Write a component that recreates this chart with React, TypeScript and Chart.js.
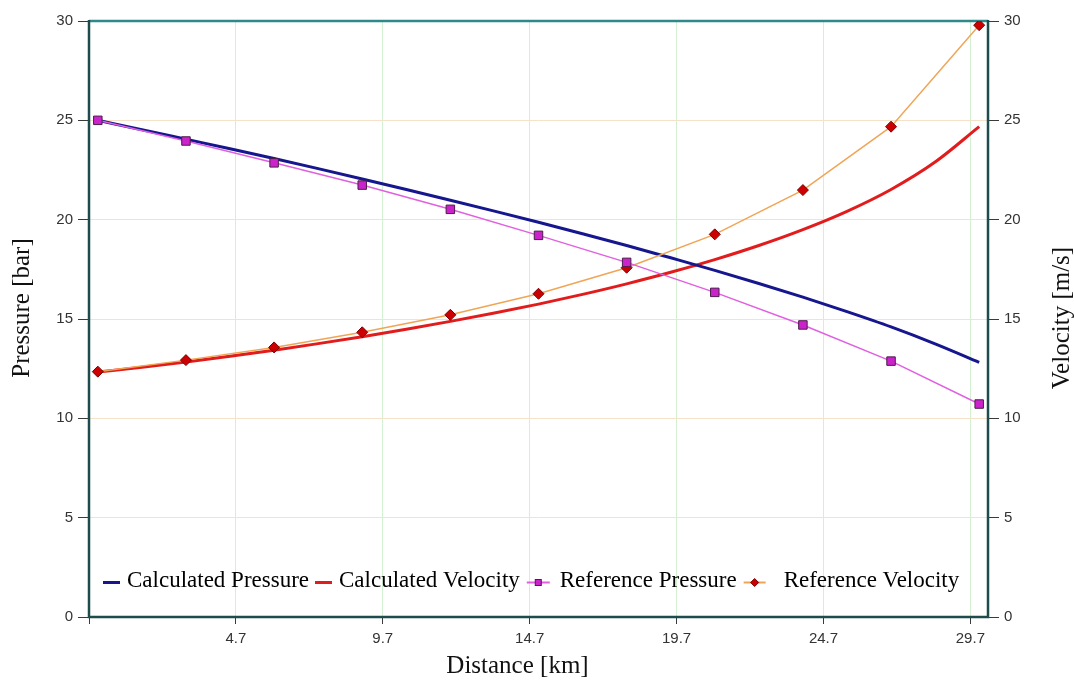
import { useEffect, useRef } from "react";
import { Chart, registerables } from "chart.js";

Chart.register(...registerables);

// ---- Data ----
const refDistance = [0, 3, 6, 9, 12, 15, 18, 21, 24, 27, 30];
const refPressure = [25.0, 23.96, 22.86, 21.74, 20.52, 19.21, 17.85, 16.34, 14.7, 12.88, 10.72];
const refVelocity = [12.35, 12.93, 13.57, 14.33, 15.21, 16.27, 17.58, 19.26, 21.49, 24.68, 29.79];

const calcDistance = [0, 1.5, 3, 4.5, 6, 7.5, 9, 10.5, 12, 13.5, 15, 16.5, 18, 19.5, 21, 22.5, 24, 25.5, 27, 28.5, 30];
const calcPressure = [25.0, 24.53, 24.05, 23.57, 23.08, 22.57, 22.05, 21.52, 20.98, 20.43, 19.87, 19.29, 18.7, 18.08, 17.45, 16.79, 16.1, 15.37, 14.6, 13.75, 12.82];
const calcVelocity = [12.33, 12.57, 12.83, 13.12, 13.43, 13.76, 14.11, 14.48, 14.88, 15.3, 15.75, 16.24, 16.77, 17.35, 17.99, 18.7, 19.5, 20.42, 21.52, 22.9, 24.68];

const xTickValues = [-0.3, 4.7, 9.7, 14.7, 19.7, 24.7, 29.7];
const yTickValues = [0, 5, 10, 15, 20, 25, 30];

const seriesNames = ["Calculated Pressure", "Calculated Velocity", "Reference Pressure", "Reference Velocity"];
const xTitle = "Distance [km]";
const yLeftTitle = "Pressure [bar]";
const yRightTitle = "Velocity [m/s]";

// ---- Styles ----
const C_CALC_P = "#16168e";
const C_CALC_V = "#e21c1c";
const C_REF_P_LINE = "#e060e0";
const C_REF_P_FILL = "#cc22cc";
const C_REF_P_BORDER = "#4a1e4a";
const C_REF_V_LINE = "#f0a555";
const C_REF_V_FILL = "#cc0000";
const C_REF_V_BORDER = "#7a0000";
const SERIF = '"Liberation Serif", "Times New Roman", serif';
const SANS = '"Liberation Sans", Arial, sans-serif';

const toXY = (xs: number[], ys: number[]) => xs.map((x, i) => ({ x, y: ys[i] }));

function drawSquare(ctx: CanvasRenderingContext2D, x: number, y: number, s: number) {
  ctx.fillStyle = C_REF_P_FILL;
  ctx.strokeStyle = C_REF_P_BORDER;
  ctx.lineWidth = 1;
  ctx.fillRect(x - s / 2, y - s / 2, s, s);
  ctx.strokeRect(x - s / 2, y - s / 2, s, s);
}
function drawDiamond(ctx: CanvasRenderingContext2D, x: number, y: number, r: number) {
  ctx.fillStyle = C_REF_V_FILL;
  ctx.strokeStyle = C_REF_V_BORDER;
  ctx.lineWidth = 1;
  ctx.beginPath();
  ctx.moveTo(x, y - r);
  ctx.lineTo(x + r, y);
  ctx.lineTo(x, y + r);
  ctx.lineTo(x - r, y);
  ctx.closePath();
  ctx.fill();
  ctx.stroke();
}

const decorPlugin = {
  id: "decor",
  beforeDatasetsDraw(chart: any) {
    const { ctx, chartArea: a } = chart;
    ctx.save();
    ctx.lineWidth = 2.5;
    ctx.strokeStyle = "#2e8a8a";
    ctx.beginPath();
    ctx.moveTo(a.left, a.top);
    ctx.lineTo(a.right, a.top);
    ctx.stroke();
    ctx.strokeStyle = "#1e4b4b";
    ctx.beginPath();
    ctx.moveTo(a.left, a.top - 1);
    ctx.lineTo(a.left, a.bottom);
    ctx.lineTo(a.right, a.bottom);
    ctx.lineTo(a.right, a.top - 1);
    ctx.stroke();
    ctx.restore();
  },
  afterDraw(chart: any) {
    const { ctx, chartArea: a } = chart;
    ctx.save();
    // axis titles
    ctx.fillStyle = "#111";
    ctx.font = `25px ${SERIF}`;
    ctx.textAlign = "center";
    ctx.textBaseline = "middle";
    const midY = (a.top + a.bottom) / 2;
    ctx.fillText(xTitle, (a.left + a.right) / 2 - 21, a.bottom + 49);
    ctx.save();
    ctx.translate(22, midY - 11);
    ctx.rotate(-Math.PI / 2);
    ctx.fillText(yLeftTitle, 0, 0);
    ctx.restore();
    ctx.save();
    ctx.translate(a.right + 74, midY - 1);
    ctx.rotate(-Math.PI / 2);
    ctx.fillText(yRightTitle, 0, 0);
    ctx.restore();

    // legend inside plot area
    const items = [
      { name: seriesNames[0], color: C_CALC_P, lw: 3, marker: "", line: 17, gap: 7, after: 6 },
      { name: seriesNames[1], color: C_CALC_V, lw: 3, marker: "", line: 17, gap: 7, after: 7 },
      { name: seriesNames[2], color: C_REF_P_LINE, lw: 2, marker: "square", line: 23, gap: 10, after: 7 },
      { name: seriesNames[3], color: C_REF_V_LINE, lw: 2, marker: "diamond", line: 22, gap: 18, after: 0 },
    ];
    ctx.font = `23px ${SERIF}`;
    ctx.textAlign = "left";
    ctx.textBaseline = "middle";
    let x = a.left + 14;
    const y = a.bottom - 36;
    for (const it of items) {
      ctx.strokeStyle = it.color;
      ctx.lineWidth = it.lw;
      ctx.beginPath();
      ctx.moveTo(x, y + 1.5);
      ctx.lineTo(x + it.line, y + 1.5);
      ctx.stroke();
      if (it.marker === "square") drawSquare(ctx, x + it.line / 2, y + 1.5, 6);
      if (it.marker === "diamond") drawDiamond(ctx, x + it.line / 2, y + 1.5, 4);
      const tx = x + it.line + it.gap;
      ctx.fillStyle = "#000";
      ctx.fillText(it.name, tx, y);
      x = tx + ctx.measureText(it.name).width + it.after;
    }
    ctx.restore();
  },
};

export default function App() {
  const canvasRef = useRef<HTMLCanvasElement | null>(null);

  useEffect(() => {
    document.body.style.margin = "0";
    const canvas = canvasRef.current;
    if (!canvas) return;
    const tickFont = { family: SANS, size: 15 };
    const chart = new Chart(canvas, {
      type: "line",
      data: {
        datasets: [
          {
            label: seriesNames[2],
            data: toXY(refDistance, refPressure),
            borderColor: C_REF_P_LINE,
            borderWidth: 1.5,
            pointStyle: "rect",
            pointRadius: 6,
            pointBackgroundColor: C_REF_P_FILL,
            pointBorderColor: C_REF_P_BORDER,
            pointBorderWidth: 1,
            tension: 0,
            yAxisID: "y",
            order: 0,
          },
          {
            label: seriesNames[3],
            data: toXY(refDistance, refVelocity),
            borderColor: C_REF_V_LINE,
            borderWidth: 1.5,
            pointStyle: "rectRot",
            pointRadius: 5.5,
            pointBackgroundColor: C_REF_V_FILL,
            pointBorderColor: C_REF_V_BORDER,
            pointBorderWidth: 1,
            tension: 0,
            yAxisID: "y1",
            order: 0,
          },
          {
            label: seriesNames[0],
            data: toXY(calcDistance, calcPressure),
            borderColor: C_CALC_P,
            borderWidth: 3,
            pointRadius: 0,
            cubicInterpolationMode: "monotone",
            yAxisID: "y",
            order: 1,
          },
          {
            label: seriesNames[1],
            data: toXY(calcDistance, calcVelocity),
            borderColor: C_CALC_V,
            borderWidth: 3,
            pointRadius: 0,
            cubicInterpolationMode: "monotone",
            yAxisID: "y1",
            order: 1,
          },
        ],
      },
      options: {
        responsive: false,
        animation: false,
        devicePixelRatio: 1,
        layout: { padding: { top: 21, left: 0, right: 0, bottom: 0 } },
        plugins: { legend: { display: false }, tooltip: { enabled: false } },
        scales: {
          x: {
            type: "linear",
            min: -0.3,
            max: 30.3,
            afterBuildTicks: (s: any) => {
              s.ticks = xTickValues.map((v) => ({ value: v }));
            },
            afterFit: (s: any) => {
              s.height = 63;
            },
            grid: { color: "#d3f0d3", lineWidth: 1, tickColor: "#3a3a3a", tickLength: 7 },
            border: { display: false },
            ticks: {
              font: tickFont,
              color: "#333",
              padding: 6,
              maxRotation: 0,
              autoSkip: false,
              callback: (v: any) => (Number(v) < 0 ? "" : Number(v).toFixed(1)),
            },
          },
          y: {
            position: "left",
            min: 0,
            max: 30,
            afterBuildTicks: (s: any) => {
              s.ticks = yTickValues.map((v) => ({ value: v }));
            },
            afterFit: (s: any) => {
              s.width = 89;
            },
            grid: { color: "#f6e2c8", lineWidth: 1, tickColor: "#3a3a3a", tickLength: 11 },
            border: { display: false },
            ticks: { font: tickFont, color: "#333", padding: 5 },
          },
          y1: {
            position: "right",
            min: 0,
            max: 30,
            afterBuildTicks: (s: any) => {
              s.ticks = yTickValues.map((v) => ({ value: v }));
            },
            afterFit: (s: any) => {
              s.width = 86;
            },
            grid: { drawOnChartArea: false, tickColor: "#3a3a3a", tickLength: 11 },
            border: { display: false },
            ticks: { font: tickFont, color: "#333", padding: 5 },
          },
        },
      },
      plugins: [decorPlugin],
    } as any);
    return () => chart.destroy();
  }, []);

  return (
    <canvas
      ref={canvasRef}
      width={1074}
      height={680}
      style={{ display: "block", width: 1074, height: 680 }}
    />
  );
}
